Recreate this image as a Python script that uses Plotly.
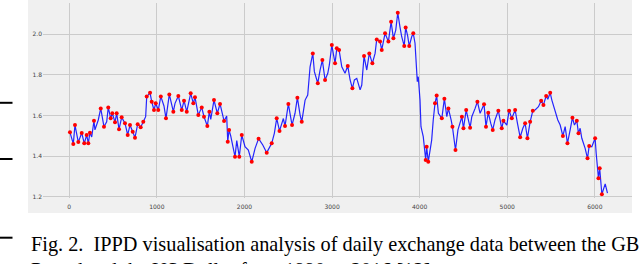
import plotly.graph_objects as go

# ---- data (day index, GBP/USD rate, important-point flag) ----
days = [8, 46, 65, 103, 142, 171, 199, 217, 236, 256, 282, 293, 331, 359, 396, 427, 445, 473, 491, 522,
        541, 568, 598, 636, 667, 693, 724, 750, 781, 815, 845, 872, 884, 922, 941, 967, 987, 1016, 1045, 1081,
        1104, 1142, 1188, 1207, 1245, 1284, 1310, 1341, 1386, 1416, 1435, 1473, 1512, 1538, 1576, 1599, 1615, 1652, 1690, 1721,
        1767, 1797, 1809, 1824, 1843, 1892, 1912, 1941, 1969, 2006, 2044, 2083, 2121, 2161, 2209, 2254, 2311, 2341, 2368, 2400,
        2444, 2463, 2501, 2543, 2577, 2604, 2635, 2654, 2692, 2722, 2749, 2780, 2798, 2837, 2863, 2889, 2920, 2951, 2969, 2997,
        3034, 3054, 3080, 3111, 3148, 3179, 3206, 3232, 3255, 3282, 3320, 3339, 3365, 3396, 3425, 3460, 3491, 3510, 3548, 3567,
        3605, 3643, 3674, 3700, 3727, 3750, 3775, 3795, 3824, 3840, 3863, 3881, 3909, 3927, 3947, 3958, 3973, 3984, 4004, 4015,
        4041, 4069, 4080, 4098, 4137, 4155, 4175, 4194, 4214, 4253, 4282, 4310, 4328, 4359, 4374, 4391, 4409, 4437, 4482, 4500,
        4531, 4576, 4595, 4633, 4659, 4690, 4735, 4757, 4783, 4811, 4834, 4860, 4898, 4937, 4956, 4995, 5021, 5052, 5090, 5116,
        5147, 5178, 5204, 5230, 5261, 5292, 5318, 5356, 5387, 5413, 5444, 5463, 5490, 5509, 5547, 5577, 5604, 5635, 5661, 5687,
        5718, 5744, 5767, 5794, 5813, 5832, 5851, 5889, 5916, 5935, 5965, 6003, 6015, 6034, 6041, 6055, 6080, 6118, 6137, 6144]

rates = [1.517, 1.460, 1.553, 1.469, 1.514, 1.463, 1.504, 1.463, 1.515, 1.494, 1.574, 1.529, 1.578, 1.635, 1.545, 1.569, 1.640, 1.586, 1.611, 1.567,
         1.611, 1.532, 1.591, 1.562, 1.504, 1.553, 1.520, 1.491, 1.557, 1.542, 1.569, 1.594, 1.693, 1.712, 1.668, 1.627, 1.660, 1.627, 1.694, 1.647,
         1.586, 1.704, 1.619, 1.660, 1.696, 1.627, 1.673, 1.619, 1.709, 1.660, 1.690, 1.602, 1.640, 1.594, 1.548, 1.619, 1.581, 1.676, 1.611, 1.657,
         1.573, 1.598, 1.471, 1.529, 1.499, 1.397, 1.476, 1.397, 1.504, 1.446, 1.430, 1.372, 1.438, 1.486, 1.455, 1.417, 1.463, 1.512, 1.586, 1.524,
         1.585, 1.548, 1.657, 1.553, 1.611, 1.688, 1.602, 1.569, 1.676, 1.701, 1.840, 1.906, 1.816, 1.759, 1.824, 1.873, 1.775, 1.808, 1.849, 1.947,
         1.857, 1.931, 1.923, 1.840, 1.808, 1.844, 1.775, 1.734, 1.775, 1.783, 1.726, 1.750, 1.893, 1.824, 1.906, 1.857, 1.906, 1.975, 1.964, 1.923,
         2.005, 1.964, 2.062, 1.980, 2.021, 2.106, 2.037, 1.988, 1.942, 2.034, 1.992, 1.942, 1.988, 2.005, 1.956, 1.873, 1.767, 1.791, 1.676, 1.545,
         1.496, 1.381, 1.446, 1.372, 1.479, 1.578, 1.660, 1.698, 1.611, 1.586, 1.683, 1.594, 1.635, 1.578, 1.545, 1.488, 1.430, 1.529, 1.594, 1.537,
         1.627, 1.540, 1.594, 1.635, 1.668, 1.611, 1.655, 1.545, 1.614, 1.562, 1.529, 1.578, 1.624, 1.537, 1.574, 1.553, 1.624, 1.586, 1.627, 1.562,
         1.493, 1.537, 1.562, 1.488, 1.569, 1.624, 1.627, 1.643, 1.673, 1.652, 1.696, 1.680, 1.712, 1.676, 1.619, 1.578, 1.553, 1.499, 1.545, 1.463,
         1.529, 1.589, 1.553, 1.574, 1.512, 1.537, 1.488, 1.438, 1.389, 1.450, 1.446, 1.488, 1.414, 1.332, 1.291, 1.340, 1.212, 1.263, 1.231, 1.218]

important = [1, 1, 1, 1, 1, 1, 1, 1, 1, 0, 1, 0, 0, 1, 1, 0, 1, 1, 1, 1,
             1, 1, 1, 1, 1, 1, 1, 1, 1, 1, 1, 0, 1, 1, 1, 1, 1, 1, 1, 0,
             1, 1, 1, 0, 1, 1, 1, 1, 1, 1, 1, 1, 1, 1, 1, 1, 0, 1, 1, 1,
             1, 0, 1, 1, 0, 1, 0, 1, 1, 0, 0, 1, 0, 1, 0, 1, 1, 0, 1, 1,
             0, 1, 1, 1, 0, 1, 0, 1, 0, 0, 0, 1, 0, 1, 0, 1, 1, 0, 0, 1,
             1, 1, 1, 0, 0, 1, 0, 1, 0, 0, 0, 0, 1, 0, 1, 1, 0, 1, 1, 1,
             1, 1, 1, 1, 0, 1, 0, 0, 1, 1, 0, 1, 0, 1, 0, 0, 0, 0, 0, 0,
             0, 1, 1, 1, 0, 0, 1, 1, 0, 1, 1, 0, 1, 0, 1, 0, 1, 0, 1, 1,
             1, 1, 0, 0, 1, 0, 1, 1, 1, 0, 1, 0, 1, 1, 1, 0, 1, 1, 1, 0,
             1, 0, 1, 1, 1, 1, 0, 0, 1, 1, 1, 0, 1, 0, 0, 0, 0, 1, 0, 1,
             0, 1, 0, 1, 1, 0, 0, 0, 1, 1, 0, 1, 0, 0, 1, 1, 1, 0, 0, 0]

x_ticks = [0, 1000, 2000, 3000, 4000, 5000, 6000]
x_tick_labels = ["0", "1000", "2000", "3000", "4000", "5000", "6000"]
y_ticks = [1.2, 1.4, 1.6, 1.8, 2.0]
y_tick_labels = ["1.2", "1.4", "1.6", "1.8", "2.0"]

caption_line1 = "Fig. 2.&nbsp;&nbsp;IPPD visualisation analysis of daily exchange data between the GB"
caption_line2 = "Pound and the US Dollar from 1990 to 2016 [12]."

# ---- figure ----
W, H = 640, 264
L, R, T, B = 43, 8, 3, 66
pw, ph = W - L - R, H - T - B


def px_x(px):
    return (px - L) / pw


def px_y(py):
    return (H - B - py) / ph


mark_x = [d for d, f in zip(days, important) if f]
mark_y = [v for v, f in zip(rates, important) if f]

fig = go.Figure()
fig.add_trace(go.Scatter(x=days, y=rates, mode="lines",
                         line=dict(color="rgba(0,0,255,0.85)", width=1.2),
                         showlegend=False, hoverinfo="skip"))
fig.add_trace(go.Scatter(x=mark_x, y=mark_y, mode="markers",
                         marker=dict(color="#ff0000", size=4),
                         showlegend=False))

bg = "#f0f0f0"
shapes = [
    dict(type="rect", xref="paper", yref="paper", x0=px_x(28), x1=px_x(632), y0=px_y(213), y1=px_y(0),
         fillcolor=bg, line=dict(width=0), layer="below"),
]
for py in (102.8, 159.0, 237.7):
    shapes.append(dict(type="line", xref="paper", yref="paper", x0=px_x(0), x1=px_x(12.5),
                       y0=px_y(py), y1=px_y(py), line=dict(color="black", width=2)))

cap_font = dict(family="Liberation Serif", size=20.3, color="black")
annotations = [
    dict(text=caption_line1, xref="paper", yref="paper", x=px_x(28.5), y=px_y(230.5), xanchor="left",
         yanchor="top", showarrow=False, font=cap_font),
    dict(text=caption_line2, xref="paper", yref="paper", x=px_x(28.5), y=px_y(256.5), xanchor="left",
         yanchor="top", showarrow=False, font=cap_font),
]

tick_font = dict(family="DejaVu Sans", size=6, color="#444444")
fig.update_layout(
    width=W, height=H, margin=dict(l=L, r=R, t=T, b=B, pad=0),
    paper_bgcolor="white", plot_bgcolor=bg,
    shapes=shapes, annotations=annotations,
    xaxis=dict(range=[-300, 6424], tickvals=x_ticks, ticktext=x_tick_labels, showgrid=True,
               gridcolor="#cbcbcb", gridwidth=1, zeroline=False, showline=False, ticks="",
               tickfont=tick_font, ticklabelstandoff=4),
    yaxis=dict(range=[1.1936, 2.1542], tickvals=y_ticks, ticktext=y_tick_labels, showgrid=True,
               gridcolor="#cbcbcb", gridwidth=1, zeroline=False, showline=False, ticks="",
               tickfont=tick_font),
)

fig.write_html("out.html", config={"displayModeBar": False},
               post_script="document.body.style.margin='0';")
